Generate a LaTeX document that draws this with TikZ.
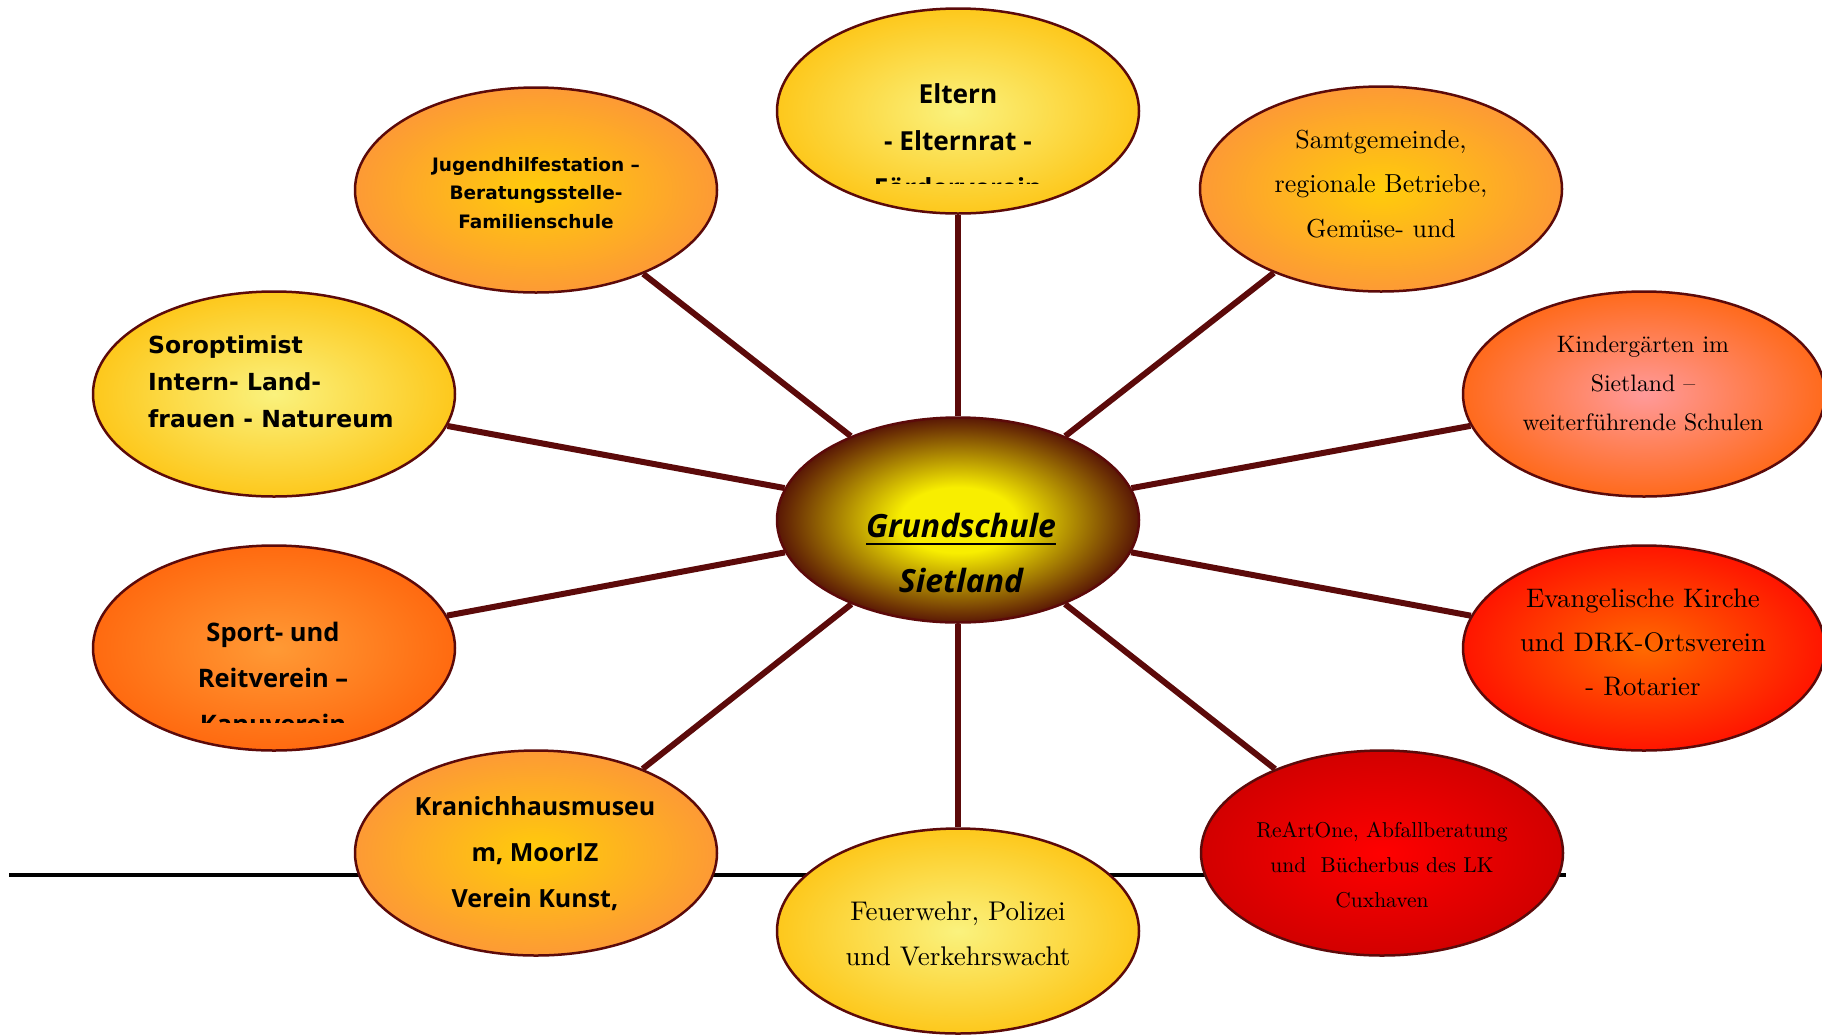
\documentclass[tikz,border=0pt]{standalone}
\usepackage{fontspec}
\usetikzlibrary{shapes.geometric}
\newfontfamily\gfont{Open Sans}
\newfontfamily\cfont{DejaVu Sans}
\newfontfamily\lmten{lmroman10-regular.otf}
\definecolor{bord}{HTML}{5C0A0A}
\definecolor{hubY}{HTML}{F8EE00}
\definecolor{hubB}{HTML}{5A1805}
\definecolor{ltY}{HTML}{FAF27E}
\definecolor{gold}{HTML}{FDC81C}
\definecolor{goldc}{HTML}{FFCC0A}
\definecolor{orA}{HTML}{FD9A35}
\definecolor{pinkc}{HTML}{FF9A9A}
\definecolor{orB}{HTML}{FF6A1C}
\definecolor{orC}{HTML}{FF9A35}
\definecolor{orD}{HTML}{FF6A10}
\definecolor{redc}{HTML}{FF6A00}
\definecolor{redB}{HTML}{FF1500}
\definecolor{redD}{HTML}{FF0000}
\definecolor{redE}{HTML}{D20000}
\pgfdeclareradialshading{hub}{\pgfpoint{0bp}{0bp}}{color(0bp)=(hubY); color(8bp)=(hubY); color(25bp)=(hubB); color(50bp)=(hubB)}
\newcommand\ctrlines[1]{\vtop{\halign{\hfil##\hfil\cr#1\crcr}}}
\newcommand\leftlines[1]{\vtop{\halign{##\hfil\cr#1\crcr}}}
\newcommand\myul[1]{\vtop{\hbox{#1}\kern6pt\hrule height 2pt}}
\begin{document}
\begin{tikzpicture}[x=1pt,y=-1pt,
  bub/.style={ellipse, draw=bord, line width=2.5pt, minimum width=362pt, minimum height=205pt, inner sep=0pt},
  link/.style={draw=bord, line width=6pt},
  lbl/.style={inner sep=0pt, text=black, anchor=base},
  yel/.style={inner color=ltY, outer color=gold},
  ora/.style={inner color=goldc, outer color=orA}]
\useasboundingbox (0,0) rectangle (1822,1034);
\fill[white] (0,0) rectangle (1822,1034);
% base line
\coordinate (L1) at (9,875);
\coordinate (L2) at (1566,875);
\draw[black, line width=4pt] (L1) -- (L2);
% bubbles
\node[bub, shading=hub] (hub) at (958,520) {};
\node[bub, yel] (elt) at (958,111) {};
\node[bub, ora] (jug) at (536,190) {};
\node[bub, ora] (sam) at (1381,189) {};
\node[bub, yel] (sor) at (274,394) {};
\node[bub, inner color=pinkc, outer color=orB] (kin) at (1644,394) {};
\node[bub, inner color=orC, outer color=orD] (spo) at (274,648) {};
\node[bub, inner color=redc, outer color=redB] (eva) at (1644,648) {};
\node[bub, ora] (kra) at (536,853) {};
\node[bub, yel] (feu) at (958,931) {};
\node[bub, inner color=redD, outer color=redE] (rea) at (1382,853) {};
% connectors
\foreach \t in {elt,jug,sam,sor,kin,spo,eva,kra,feu,rea}
  \draw[link] (hub) -- (\t);
% texts
\node[lbl] (tHub) at (961,537) {\fontsize{32}{55}\selectfont\gfont\bfseries\itshape\ctrlines{\myul{Grundschule}\cr Sietland}};
\begin{scope}
  \clip (760,0) rectangle (1160,183);
  \node[lbl] (tElt) at (958,103) {\fontsize{26.2}{47}\selectfont\gfont\bfseries\ctrlines{Eltern\cr - Elternrat -\cr Förderverein}};
\end{scope}
\node[lbl] (tJug) at (536,171) {\fontsize{18.5}{28.5}\selectfont\cfont\bfseries\ctrlines{Jugendhilfestation –\cr Beratungsstelle-\cr Familienschule}};
\node[lbl] (tSam) at (1381,148) {\fontsize{26}{44.5}\selectfont\lmten\ctrlines{Samtgemeinde,\cr regionale Betriebe,\cr Gemüse- und}};
\node[lbl, anchor=base west] (tSor) at (148,353) {\fontsize{23.5}{37}\selectfont\cfont\bfseries\leftlines{Soroptimist\cr Intern- Land-\cr frauen - Natureum}};
\node[lbl] (tKin) at (1643,352) {\fontsize{23.8}{39}\selectfont\lmten\ctrlines{Kindergärten im\cr Sietland –\cr weiterführende Schulen}};
\begin{scope}
  \clip (80,540) rectangle (470,722);
  \node[lbl] (tSpo) at (273,641) {\fontsize{25.5}{46}\selectfont\gfont\bfseries\ctrlines{Sport- und\cr Reitverein –\cr Kanuverein}};
\end{scope}
\node[lbl] (tEva) at (1643,607) {\fontsize{26.8}{44}\selectfont\lmten\ctrlines{Evangelische Kirche\cr und DRK-Ortsverein\cr - Rotarier}};
\node[lbl] (tKra) at (535,815) {\fontsize{25}{46}\selectfont\gfont\bfseries\ctrlines{Kranichhausmuseu\cr m, MoorIZ\cr Verein Kunst,}};
\node[lbl] (tFeu) at (958,920) {\fontsize{27}{45}\selectfont\lmten\ctrlines{Feuerwehr, Polizei\cr und Verkehrswacht}};
\node[lbl] (tRea) at (1382,837) {\fontsize{21.5}{35}\selectfont\lmten\ctrlines{ReArtOne, Abfallberatung\cr und\ \ Bücherbus des LK\cr Cuxhaven}};
\end{tikzpicture}
\end{document}
